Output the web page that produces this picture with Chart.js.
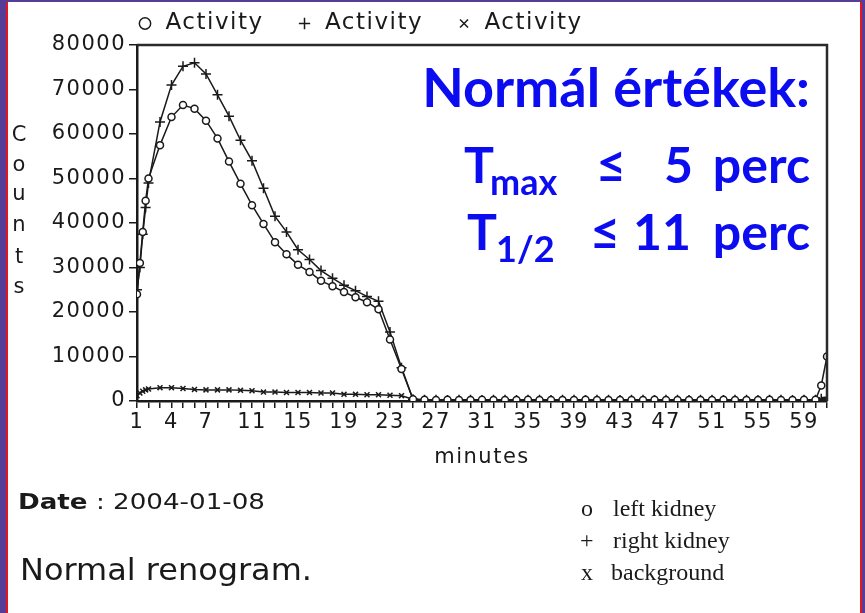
<!DOCTYPE html>
<html>
<head>
<meta charset="utf-8">
<script src="https://cdn.jsdelivr.net/npm/chart.js@4"></script>
<style>
  html, body { margin: 0; padding: 0; background: #553d98; }
  #page { position: absolute; left: 6px; top: 2px; width: 852px; height: 611px; background: #fff;
          border-left: 2px solid #e3171d; border-right: 2px solid #e3171d; }
  #chart { position: absolute; left: 0; top: 0; }
  #notes { position: absolute; left: 0; top: 0; }
</style>
</head>
<body>
<div id="page"></div>
<canvas id="chart" width="865" height="480"></canvas>
<svg id="notes" width="865" height="613" xmlns="http://www.w3.org/2000/svg">
  <g font-family="DejaVu Sans" font-size="21" fill="#1a1a1a" text-anchor="middle">
    <text x="19" y="141">C</text>
    <text x="19" y="171">o</text>
    <text x="19" y="200">u</text>
    <text x="19" y="231">n</text>
    <text x="19" y="263">t</text>
    <text x="19" y="293">s</text>
  </g>
  <g font-family="Lato" font-weight="bold" fill="#0c0cf0">
    <text x="810" y="107" font-size="54" text-anchor="end">Normál értékek:</text>
    <text x="464" y="183" font-size="50">T</text>
    <text x="490" y="195" font-size="36">max</text>
    <text x="596" y="183" font-size="52">≤</text>
    <text x="664" y="183" font-size="50">5</text>
    <text x="810" y="183" font-size="50" text-anchor="end">perc</text>
    <text x="467" y="250" font-size="50">T</text>
    <text x="496" y="262" font-size="36">1/2</text>
    <text x="590" y="250" font-size="52">≤</text>
    <text x="633" y="250" font-size="50">11</text>
    <text x="810" y="250" font-size="50" text-anchor="end">perc</text>
  </g>
  <text x="18" y="509" font-family="DejaVu Sans" font-size="22" fill="#1a1a1a" textLength="247" lengthAdjust="spacingAndGlyphs"><tspan font-weight="bold">Date</tspan> : 2004-01-08</text>
  <text x="20" y="580" font-family="DejaVu Sans" font-size="30" fill="#1a1a1a" textLength="292" lengthAdjust="spacingAndGlyphs">Normal renogram.</text>
  <g font-family="Liberation Serif" font-size="24" fill="#1a1a1a">
    <text x="581" y="516">o</text><text x="613" y="516">left  kidney</text>
    <text x="580" y="548">+</text><text x="613" y="548">right kidney</text>
    <text x="581" y="580">x</text><text x="611" y="580">background</text>
  </g>
</svg>
<script>
// minutes of each frame (denser sampling at the start)
const times = [1, 1.25, 1.5, 1.75,
  2, 3, 4, 5, 6, 7, 8, 9, 10, 11, 12, 13, 14, 15, 16, 17, 18, 19, 20, 21, 22, 23, 24, 25,
  26, 27, 28, 29, 30, 31, 32, 33, 34, 35, 36, 37, 38, 39, 40, 41, 42, 43,
  44, 45, 46, 47, 48, 49, 50, 51, 52, 53, 54, 55, 56, 57, 58, 59, 60, 60.5, 61];

const leftKidney = [24000, 31000, 38000, 45000,
  50000, 57500, 63800, 66500, 65700, 63000, 59000, 53800, 48800, 44000, 39800, 35700, 33000, 30600, 29000, 27000, 25800, 24500, 23300, 22200, 20600, 13800, 7200, 400,
  300, 250, 300, 200, 250, 300, 250, 200, 250, 300, 250, 200, 250, 250, 300, 200, 250, 250,
  200, 250, 300, 250, 200, 250, 250, 200, 300, 250, 200, 250, 300, 250, 200, 300, 300, 3500, 10000];

const rightKidney = [25000, 30000, 37500, 43500,
  49000, 62700, 71000, 75200, 76000, 73500, 68800, 64000, 58600, 54000, 47800, 41500, 38000, 34000, 31800, 29300, 27600, 26000, 24800, 23500, 22400, 15500, 7500, 400,
  300, 300, 250, 300, 300, 250, 300, 300, 250, 300, 300, 250, 300, 300, 250, 300, 300, 250,
  300, 300, 250, 300, 300, 250, 300, 300, 250, 300, 300, 250, 300, 300, 250, 300, 300, 500, 800];

const background = [1200, 1800, 2200, 2500,
  2700, 3000, 3000, 2800, 2600, 2500, 2500, 2500, 2400, 2300, 2000, 2000, 1900, 1900, 1900, 1800, 1800, 1500, 1500, 1400, 1400, 1300, 1200, 400,
  200, 200, 150, 200, 200, 150, 200, 200, 150, 200, 200, 150, 200, 200, 150, 200, 200, 150,
  200, 200, 150, 200, 200, 150, 200, 200, 150, 200, 200, 150, 200, 200, 150, 200, 200, 300, 400];

const seriesLabels = ['Activity', 'Activity', 'Activity'];
const xTickLabels = [1, 4, 7, 11, 15, 19, 23, 27, 31, 35, 39, 43, 47, 51, 55, 59];
const yTickLabels = [0, 10000, 20000, 30000, 40000, 50000, 60000, 70000, 80000];

const ink = '#1a1a1a';
const tickFont = { family: 'DejaVu Sans', size: 21 };

function pts(ys) {
    return times.map((t, i) => ({ x: t, y: ys[i] }));
}

function makeSet(label, ys, style, radius) {
    return {
        label: label,
        data: pts(ys),
        borderColor: ink,
        borderWidth: 1.5,
        pointStyle: style,
        pointRadius: radius,
        pointBorderColor: ink,
        pointBackgroundColor: '#fff',
        pointBorderWidth: 1.5,
        tension: 0
    };
}

// spacing tweak so the text widths look like the old bitmap font
const spacing = {
    id: 'spacing',
    beforeLayout(c) { c.ctx.letterSpacing = '1.5px'; },
    beforeDraw(c) { c.ctx.letterSpacing = '1.5px'; }
};

// start the legend over the plot's left edge
const legendShift = {
    id: 'legendShift',
    afterLayout(c) { c.legend.left = 104; }
};

// top and right sides of the plot box
const frame = {
    id: 'frame',
    afterDraw(c) {
        const a = c.chartArea, ctx = c.ctx;
        ctx.save();
        ctx.strokeStyle = '#2a2a2a';
        ctx.lineWidth = 2.5;
        ctx.beginPath();
        ctx.moveTo(a.left, a.top);
        ctx.lineTo(a.right, a.top);
        ctx.lineTo(a.right, a.bottom);
        ctx.stroke();
        ctx.restore();
    }
};

const ctx = document.getElementById('chart').getContext('2d');
new Chart(ctx, {
    type: 'line',
    data: {
        datasets: [
            makeSet(seriesLabels[0], leftKidney, 'circle', 3.5),
            makeSet(seriesLabels[1], rightKidney, 'cross', 5),
            makeSet(seriesLabels[2], background, 'crossRot', 3.5)
        ]
    },
    options: {
        responsive: false,
        animation: false,
        layout: { padding: { top: -20, right: 38, left: 0, bottom: 6 } },
        plugins: {
            tooltip: { enabled: false },
            legend: {
                align: 'start',
                labels: {
                    usePointStyle: true,
                    boxWidth: 18,
                    boxHeight: 8,
                    padding: 32,
                    color: ink,
                    font: { family: 'DejaVu Sans', size: 23 }
                }
            }
        },
        scales: {
            x: {
                type: 'linear',
                min: 1,
                max: 61,
                afterFit: s => { s.height = 73; },
                ticks: {
                    stepSize: 1,
                    autoSkip: false,
                    maxRotation: 0,
                    padding: 2,
                    color: ink,
                    font: tickFont,
                    callback: v => xTickLabels.includes(v) ? String(v) : ''
                },
                grid: { drawOnChartArea: false, tickLength: 7, color: ink, lineWidth: 1.5 },
                border: { color: ink, width: 2.5 },
                title: { display: true, text: 'minutes', color: ink, font: tickFont, padding: { top: 0 } }
            },
            y: {
                min: 0,
                max: 80000,
                afterFit: s => { s.width = 137; },
                ticks: {
                    stepSize: 5000,
                    padding: 3,
                    color: ink,
                    font: tickFont,
                    callback: v => yTickLabels.includes(v) ? String(v) : ''
                },
                grid: { drawOnChartArea: false, tickLength: 8, color: ink, lineWidth: 1.5 },
                border: { color: ink, width: 2.5 }
            }
        }
    },
    plugins: [spacing, legendShift, frame]
});
</script>
</body>
</html>
